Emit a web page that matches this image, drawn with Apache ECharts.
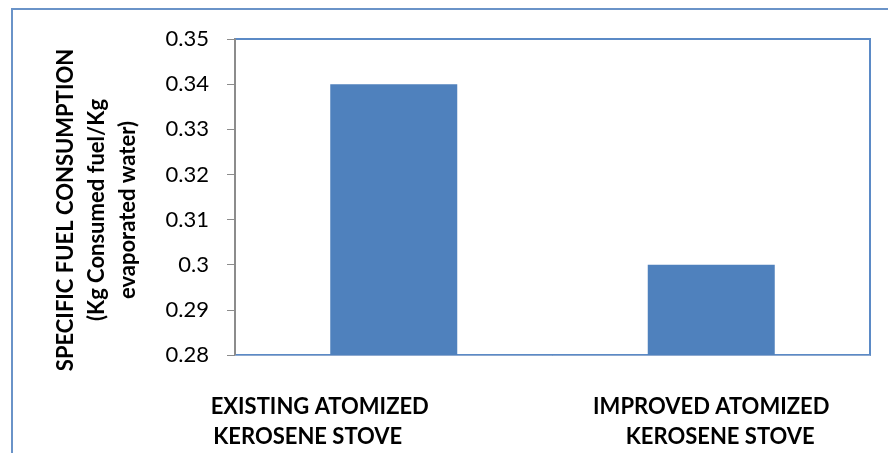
<!DOCTYPE html>
<html><head><meta charset="utf-8">
<script src="https://cdn.jsdelivr.net/npm/echarts@6/dist/echarts.min.js"></script>
<style>html,body{margin:0;padding:0;background:#fff}#c{width:888px;height:453px}</style>
</head><body><div id="c"></div>
<script>
const categories = ['EXISTING ATOMIZED\nKEROSENE STOVE', 'IMPROVED ATOMIZED\nKEROSENE STOVE'];
const values = [0.34, 0.30];
const yTicks = [0.28, 0.29, 0.30, 0.31, 0.32, 0.33, 0.34, 0.35];
const yName = 'SPECIFIC FUEL CONSUMPTION\n(Kg Consumed fuel/Kg\nevaporated water)';

const chart = echarts.init(document.getElementById('c'), null, {renderer: 'canvas'});
const font = 'Lato, "Open Sans", sans-serif';
const xl = {fontFamily: font, fontWeight: 'bold', fontSize: 22, color: '#000', lineHeight: 30};
chart.setOption({
  animation: false,
  graphic: [{type: 'rect', shape: {x: 12, y: 9, width: 900, height: 470},
    style: {fill: 'none', stroke: '#6A93C8', lineWidth: 2}, silent: true, z: -1}],
  grid: {left: 235, top: 39, right: 18, bottom: 98, show: true, borderColor: '#5B8AC6', borderWidth: 2, backgroundColor: 'transparent'},
  xAxis: {
    type: 'category', data: categories,
    axisLine: {show: true, lineStyle: {color: '#8EA9CF', width: 1}},
    axisTick: {show: false},
    axisLabel: {
      margin: 37, interval: 0,
      formatter: function (v, i) {
        const p = v.split('\n');
        if (i === 0) return '{a|' + p[0] + '}\n{b|' + p[1] + '}';
        return '{c|' + p[0] + '}\n{d|' + p[1] + '}';
      },
      rich: {
        a: Object.assign({}, xl, {padding: [0, 148, 0, 0]}),
        b: Object.assign({}, xl, {padding: [0, 172, 0, 0]}),
        c: Object.assign({}, xl, {padding: [0, 0, 0, 0]}),
        d: Object.assign({}, xl, {padding: [0, 0, 0, 18]})
      }
    }
  },
  yAxis: {
    type: 'value', min: 0.28, max: 0.35, interval: 0.01,
    name: yName, nameLocation: 'middle', nameGap: 92, nameRotate: 90,
    nameTextStyle: {fontFamily: font, fontWeight: 'bold', fontSize: 22, color: '#000', lineHeight: 31, align: 'center', padding: [0, 26, 0, 0]},
    axisLine: {show: true, lineStyle: {color: '#8C8C8C', width: 2}},
    axisTick: {show: true, length: 8, lineStyle: {color: '#8C8C8C', width: 1}},
    splitLine: {show: false},
    axisLabel: {
      margin: 26, fontFamily: font, fontSize: 22, color: '#000',
      formatter: function (v) {
        const t = yTicks.find(x => Math.abs(x - v) < 1e-9);
        return t === undefined ? '' : String(parseFloat(t.toFixed(2)));
      }
    }
  },
  series: [{
    type: 'bar', data: values, barWidth: '40%',
    itemStyle: {color: '#4F81BD'}
  }]
});
</script></body></html>
